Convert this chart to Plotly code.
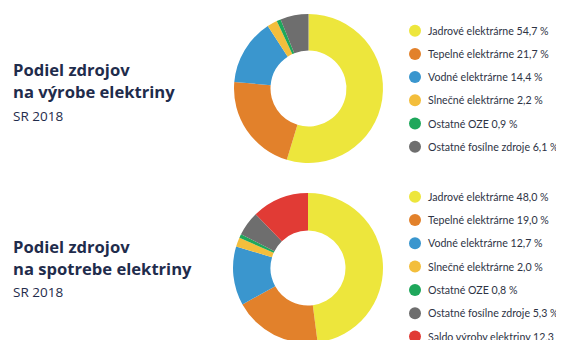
import plotly.graph_objects as go

# Data
labels_prod = ["Jadrové elektrárne", "Tepelné elektrárne", "Vodné elektrárne",
               "Slnečné elektrárne", "Ostatné OZE", "Ostatné fosílne zdroje"]
values_prod = [54.7, 21.7, 14.4, 2.2, 0.9, 6.1]

labels_cons = ["Jadrové elektrárne", "Tepelné elektrárne", "Vodné elektrárne",
               "Slnečné elektrárne", "Ostatné OZE", "Ostatné fosílne zdroje",
               "Saldo výroby elektriny"]
values_cons = [48.0, 19.0, 12.7, 2.0, 0.8, 5.3, 12.3]

colors = ["#EDE63C", "#E2812B", "#3A96CE", "#F3BE3C", "#1EA75B", "#6E6E6E", "#E13B35"]

title_prod = ["Podiel zdrojov", "na výrobe elektriny", "SR 2018"]
title_cons = ["Podiel zdrojov", "na spotrebe elektriny", "SR 2018"]

W, H = 564, 340
# the page body adds an 8px margin; compensate so that screen coordinates match
O = 8

def px(x):
    return (x - O) / W

def py(y):
    return 1 - (y - O) / H

def fmt(v):
    return f"{v:.1f}".replace(".", ",") + " %"

fig = go.Figure()

fig.add_trace(go.Pie(
    labels=labels_prod, values=values_prod, sort=False, direction="clockwise",
    rotation=0, hole=0.51, textinfo="none", showlegend=False,
    marker=dict(colors=colors[:len(values_prod)], line=dict(width=0)),
    domain=dict(x=[px(234), px(383)], y=[py(163), py(14)]),
))
fig.add_trace(go.Pie(
    labels=labels_cons, values=values_cons, sort=False, direction="clockwise",
    rotation=0, hole=0.5, textinfo="none", showlegend=False,
    marker=dict(colors=colors[:len(values_cons)], line=dict(width=0)),
    domain=dict(x=[px(233), px(383)], y=[py(343), py(193)]),
))

shapes = []
annotations = []
navy = "#1F2C4C"
txt = "#2E3344"

def add_legend(labels, values, y0, step):
    for i, (lab, val) in enumerate(zip(labels, values)):
        yc = y0 + i * step
        shapes.append(dict(type="circle", xref="paper", yref="paper",
                           x0=px(409), x1=px(421), y0=py(yc + 6), y1=py(yc - 6),
                           fillcolor=colors[i], line=dict(width=0)))
        annotations.append(dict(x=px(426), y=py(yc), xref="paper", yref="paper",
                                text=f"{lab} {fmt(val)}", showarrow=False,
                                xanchor="left", yanchor="middle",
                                font=dict(family="Lato", size=10.6, color=txt)))

add_legend(labels_prod, values_prod, 30.7, 23.2)
add_legend(labels_cons, values_cons, 196.7, 23.3)

def add_title(lines, ys):
    for j, (t, y) in enumerate(zip(lines, ys)):
        bold = j < 2
        annotations.append(dict(x=px(11), y=py(y), xref="paper", yref="paper",
                                text=f"<b>{t}</b>" if bold else t, showarrow=False,
                                xanchor="left", yanchor="middle",
                                font=dict(family="Open Sans", size=16.6 if bold else 13.5,
                                          color=navy)))

add_title(title_prod, [69, 91, 116])
add_title(title_cons, [247, 268, 292])

fig.update_layout(
    width=W, height=H, margin=dict(l=0, r=0, t=0, b=0),
    paper_bgcolor="white", plot_bgcolor="white",
    shapes=shapes, annotations=annotations, showlegend=False,
)

fig.write_html("out.html")
